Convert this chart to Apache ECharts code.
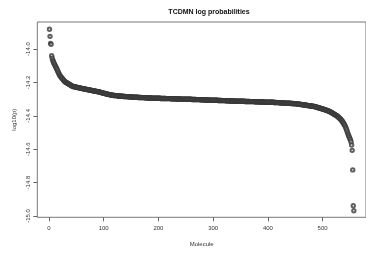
<!DOCTYPE html>
<html>
<head>
<meta charset="utf-8">
<script src="https://cdn.jsdelivr.net/npm/echarts@6/dist/echarts.min.js"></script>
<style>
html,body{margin:0;padding:0;background:#fff;}
#chart{width:366px;height:254px;}
</style>
</head>
<body>
<div id="chart"></div>
<script>
// log10(p) per molecule, sorted
var logProb = [
-13.881,-13.924,-13.966,-13.972,
-14.040,-14.055,-14.067,-14.075,-14.083,-14.090,-14.097,-14.103,-14.110,-14.116,
-14.124,-14.131,-14.138,-14.145,-14.152,-14.159,-14.163,-14.167,-14.171,-14.175,
-14.179,-14.183,-14.187,-14.191,-14.195,
-14.197,-14.199,-14.201,-14.203,-14.205,-14.207,-14.209,-14.211,-14.213,-14.215,
-14.217,-14.219,-14.221,-14.223,-14.224,
-14.225,-14.226,-14.226,-14.227,-14.228,-14.228,-14.229,-14.230,-14.231,-14.231,
-14.232,-14.233,-14.234,-14.234,-14.235,-14.236,
-14.237,-14.237,-14.238,-14.239,-14.239,-14.240,-14.241,-14.241,-14.242,-14.243,
-14.243,-14.244,-14.245,-14.245,-14.246,-14.247,-14.247,-14.248,-14.249,-14.249,
-14.250,-14.251,-14.251,-14.252,-14.253,-14.253,-14.254,-14.255,-14.255,-14.256,
-14.256,-14.257,
-14.258,-14.259,-14.260,-14.261,-14.262,-14.263,-14.264,-14.264,-14.265,-14.266,
-14.267,-14.268,-14.269,-14.269,-14.270,-14.271,-14.272,-14.273,-14.273,-14.274,
-14.275,-14.275,-14.276,
-14.277,-14.277,-14.278,-14.278,-14.278,-14.279,-14.279,-14.279,-14.280,-14.280,
-14.280,-14.281,-14.281,-14.281,-14.282,-14.282,-14.282,-14.283,-14.283,-14.283,
-14.284,-14.284,-14.284,-14.284,-14.285,-14.285,-14.285,-14.285,-14.286,-14.286,
-14.286,-14.286,-14.286,-14.287,-14.287,-14.287,
-14.287,-14.288,-14.288,-14.288,-14.288,-14.288,-14.289,-14.289,-14.289,-14.289,
-14.289,-14.290,-14.290,-14.290,-14.290,-14.290,-14.290,-14.291,-14.291,-14.291,
-14.291,-14.291,-14.291,-14.292,-14.292,-14.292,-14.292,-14.292,-14.292,-14.293,
-14.293,-14.293,-14.293,-14.293,-14.293,-14.293,-14.294,-14.294,-14.294,-14.294,
-14.294,-14.294,
-14.294,-14.295,-14.295,-14.295,-14.295,-14.295,-14.295,-14.295,-14.295,-14.295,
-14.296,-14.296,-14.296,-14.296,-14.296,-14.296,-14.296,-14.296,-14.296,-14.296,
-14.297,-14.297,-14.297,-14.297,-14.297,-14.297,-14.297,-14.297,-14.297,
-14.298,-14.298,-14.298,-14.298,-14.298,-14.298,-14.298,-14.298,-14.298,
-14.299,-14.299,-14.299,-14.299,-14.299,-14.299,-14.299,-14.299,-14.299,
-14.300,-14.300,-14.300,-14.300,-14.300,-14.300,-14.300,
-14.300,-14.300,-14.300,-14.300,-14.300,
-14.301,-14.301,-14.301,-14.301,-14.301,-14.301,-14.301,-14.301,
-14.302,-14.302,-14.302,-14.302,-14.302,-14.302,-14.302,-14.302,
-14.303,-14.303,-14.303,-14.303,-14.303,-14.303,-14.303,-14.303,
-14.304,-14.304,-14.304,-14.304,-14.304,-14.304,-14.304,-14.304,
-14.305,-14.305,-14.305,-14.305,-14.305,-14.305,-14.305,-14.305,
-14.306,-14.306,-14.306,-14.306,-14.306,-14.306,-14.306,-14.306,
-14.307,-14.307,-14.307,-14.307,-14.307,-14.307,-14.307,-14.307,
-14.308,-14.308,-14.308,-14.308,-14.308,-14.308,-14.308,
-14.309,-14.309,-14.309,-14.309,-14.309,-14.309,-14.309,
-14.310,-14.310,-14.310,
-14.310,-14.310,-14.310,-14.310,-14.310,
-14.311,-14.311,-14.311,-14.311,-14.311,-14.311,-14.311,-14.311,-14.311,
-14.312,-14.312,-14.312,-14.312,-14.312,-14.312,-14.312,-14.312,-14.312,
-14.313,-14.313,-14.313,-14.313,-14.313,-14.313,-14.313,-14.313,-14.313,
-14.314,-14.314,-14.314,-14.314,-14.314,-14.314,-14.314,-14.314,-14.314,
-14.315,-14.315,-14.315,-14.315,-14.315,-14.315,-14.315,-14.315,-14.315,
-14.316,-14.316,-14.316,-14.316,-14.316,-14.316,-14.316,-14.316,-14.316,
-14.317,-14.317,-14.317,-14.317,-14.317,-14.317,-14.317,-14.317,-14.317,
-14.318,-14.318,-14.318,-14.318,-14.318,-14.318,-14.318,-14.318,-14.318,
-14.319,-14.319,-14.319,-14.319,-14.319,-14.319,-14.319,-14.319,
-14.320,-14.320,-14.320,-14.320,-14.320,
-14.321,-14.321,-14.321,-14.321,-14.321,
-14.322,-14.322,-14.322,-14.322,-14.322,
-14.323,-14.323,-14.323,-14.323,-14.323,
-14.324,-14.324,-14.324,-14.324,-14.324,-14.324,
-14.325,-14.325,-14.325,-14.325,-14.325,
-14.326,-14.326,-14.326,-14.326,-14.326,
-14.327,-14.327,-14.327,-14.327,-14.327,
-14.328,-14.328,-14.329,-14.329,-14.330,-14.330,-14.331,-14.331,-14.332,-14.332,
-14.333,-14.333,-14.334,-14.334,-14.335,-14.335,-14.336,-14.336,-14.337,-14.337,
-14.338,-14.338,-14.339,-14.339,-14.340,-14.340,-14.341,-14.341,-14.342,-14.342,
-14.343,-14.343,-14.344,-14.344,-14.345,-14.346,
-14.347,-14.348,-14.349,-14.350,-14.351,-14.352,-14.353,-14.354,-14.355,-14.356,
-14.357,-14.358,-14.359,-14.360,-14.361,-14.362,-14.363,-14.364,-14.366,-14.367,
-14.368,-14.369,-14.370,
-14.372,-14.373,-14.375,-14.376,-14.378,-14.380,-14.382,-14.384,-14.386,-14.388,
-14.390,-14.392,-14.394,-14.396,-14.398,-14.400,-14.402,-14.405,
-14.408,-14.411,-14.414,-14.417,-14.421,-14.425,-14.429,-14.433,-14.438,-14.443,
-14.449,-14.455,
-14.460,-14.468,-14.476,-14.485,-14.495,-14.505,-14.513,-14.522,-14.530,-14.538,
-14.546,-14.557,-14.575,-14.607,-14.724,-14.939,-14.969
];

// tick marks as R drew them
var xTicks = [0, 100, 200, 300, 400, 500];
var yTicks = [-15.0, -14.8, -14.6, -14.4, -14.2, -14.0];

var points = [];
for (var i = 0; i < logProb.length; i++) {
	points.push([i + 1, logProb[i]]);
}

var chart = echarts.init(document.getElementById('chart'));
var font = '"Liberation Sans Narrow", "Liberation Sans", Arial, sans-serif';

var option = {
	animation: false,
	backgroundColor: '#fff',
	title: {
		text: 'TCDMN log probabilities',
		left: 204,
		top: 4,
		textAlign: 'center',
		textStyle: { fontFamily: font, fontSize: 7, fontWeight: 'bold', color: '#111' }
	},
	grid: {
		left: 37.3,
		top: 22,
		right: -5.9,
		bottom: 36.7,
		show: true,
		borderColor: '#777',
		borderWidth: 1
	},
	xAxis: {
		type: 'value',
		min: -21.24,
		max: 579.24,
		name: 'Molecule',
		nameLocation: 'middle',
		nameGap: 24,
		nameTextStyle: { fontFamily: font, fontSize: 6, color: '#333' },
		axisLine: { show: false, onZero: false },
		axisTick: { show: true, length: 4, customValues: xTicks, lineStyle: { color: '#666' } },
		axisLabel: { customValues: xTicks, margin: 8, fontFamily: font, fontSize: 6, color: '#333' },
		splitLine: { show: false }
	},
	yAxis: {
		type: 'value',
		min: -15.008,
		max: -13.838,
		name: 'log10(p)',
		nameLocation: 'middle',
		nameGap: 16,
		nameRotate: 90,
		nameTextStyle: { fontFamily: font, fontSize: 6, color: '#333' },
		axisLine: { show: false, onZero: false },
		axisTick: { show: true, length: 4, customValues: yTicks, lineStyle: { color: '#666' } },
		axisLabel: {
			customValues: yTicks,
			rotate: 90,
			margin: 6,
			fontFamily: font,
			fontSize: 6,
			color: '#333',
			formatter: function (v) { return v.toFixed(1); }
		},
		splitLine: { show: false }
	},
	series: [{
		type: 'scatter',
		data: points,
		symbol: 'emptyCircle',
		symbolSize: 3.4,
		itemStyle: { color: '#3a3a3a', borderWidth: 0.5 }
	}]
};

chart.setOption(option);
</script>
</body>
</html>
